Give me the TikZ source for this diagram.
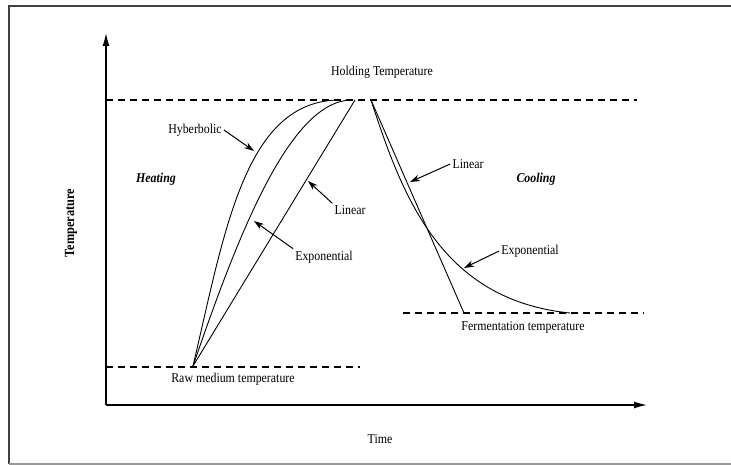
\documentclass[tikz,border=0pt]{standalone}
\usepackage{fontspec}
\setmainfont{Liberation Serif}[FakeStretch=0.88]
\usetikzlibrary{arrows.meta}
\begin{document}
\begin{tikzpicture}[x=1pt,y=-1pt,
  lbl/.style={font=\fontsize{13.5}{15}\selectfont, inner sep=2pt},
  hdr/.style={font=\fontsize{13.5}{15}\selectfont\bfseries\itshape, inner sep=2pt},
  curve/.style={line width=0.9pt},
  guide/.style={line width=1.3pt, dash pattern=on 7pt off 5pt},
  axis/.style={line width=1.3pt, -{Latex[length=13pt,width=7pt]}},
  pointer/.style={line width=1pt, -{Stealth[length=10pt,width=6.5pt]}},
  frame/.style={line width=1.3pt, black!75}
]
\useasboundingbox (0,0) rectangle (731,465);
% frame
\coordinate (fr1) at (731,6);
\coordinate (fr2) at (9,6);
\coordinate (fr3) at (9,464);
\coordinate (fr4) at (731,464);
\draw[frame] (fr1) -- (fr2) -- (fr3);
\draw[frame, black!40] (fr3) -- (fr4);
% axes
\coordinate (O) at (106,405);
\coordinate (ytop) at (106,33);
\coordinate (xend) at (647,405);
\draw[axis] (O) -- (ytop);
\draw[axis] (O) -- (xend);
% dashed levels
\coordinate (h1) at (106,100); \coordinate (h2) at (637,100);
\coordinate (r1) at (106,367); \coordinate (r2) at (360,367);
\coordinate (f1) at (403,313); \coordinate (f2) at (644,313);
\draw[guide] (h1) -- (h2);
\draw[guide] (r1) -- (r2);
\draw[guide] (f1) -- (f2);
% key points
\coordinate (S) at (193,366);
\coordinate (Ph) at (355,100);
\coordinate (Pe) at (352,100);
\coordinate (Py) at (340,100);
\coordinate (Pc) at (371,100);
\coordinate (F) at (464,313);
\coordinate (Fe) at (570,313);
% heating curves
\draw[curve] (S) .. controls (225,230) and (245,100) .. (Py);
\draw[curve] (S) .. controls (238,235) and (290,100) .. (Pe);
\draw[curve] (S) -- (Ph);
% cooling curves
\draw[curve] (Pc) -- (F);
\draw[curve] (Pc) .. controls (402,195) and (440,300) .. (Fe);
% texts
\node[lbl] (hold) at (382,72) {Holding Temperature};
\node[lbl] (raw) at (233,379) {Raw medium temperature};
\node[lbl] (ferm) at (523,327) {Fermentation temperature};
\node[lbl] (time) at (380,439) {Time};
\node[lbl, rotate=90, font=\fontsize{14}{16}\selectfont\bfseries] (temp) at (71,223) {Temperature};
\node[hdr] (heat) at (156,179) {Heating};
\node[hdr] (cool) at (536,179) {Cooling};
\node[lbl] (hyp) at (195,130) {Hyberbolic};
\node[lbl] (linH) at (350,210) {Linear};
\node[lbl] (expH) at (324,257) {Exponential};
\node[lbl] (linC) at (468,164) {Linear};
\node[lbl] (expC) at (530,251) {Exponential};
% pointer tips
\coordinate (hypTip) at (254,151);
\coordinate (linHTip) at (308,181);
\coordinate (expHTip) at (254,221);
\coordinate (linCTip) at (410,182);
\coordinate (expCTip) at (464,268);
\draw[pointer] (hyp.east) -- (hypTip);
\draw[pointer] (linH.north west) -- (linHTip);
\draw[pointer] (expH.north west) -- (expHTip);
\draw[pointer] (linC.west) -- (linCTip);
\draw[pointer] (expC.west) -- (expCTip);
\end{tikzpicture}
\end{document}
